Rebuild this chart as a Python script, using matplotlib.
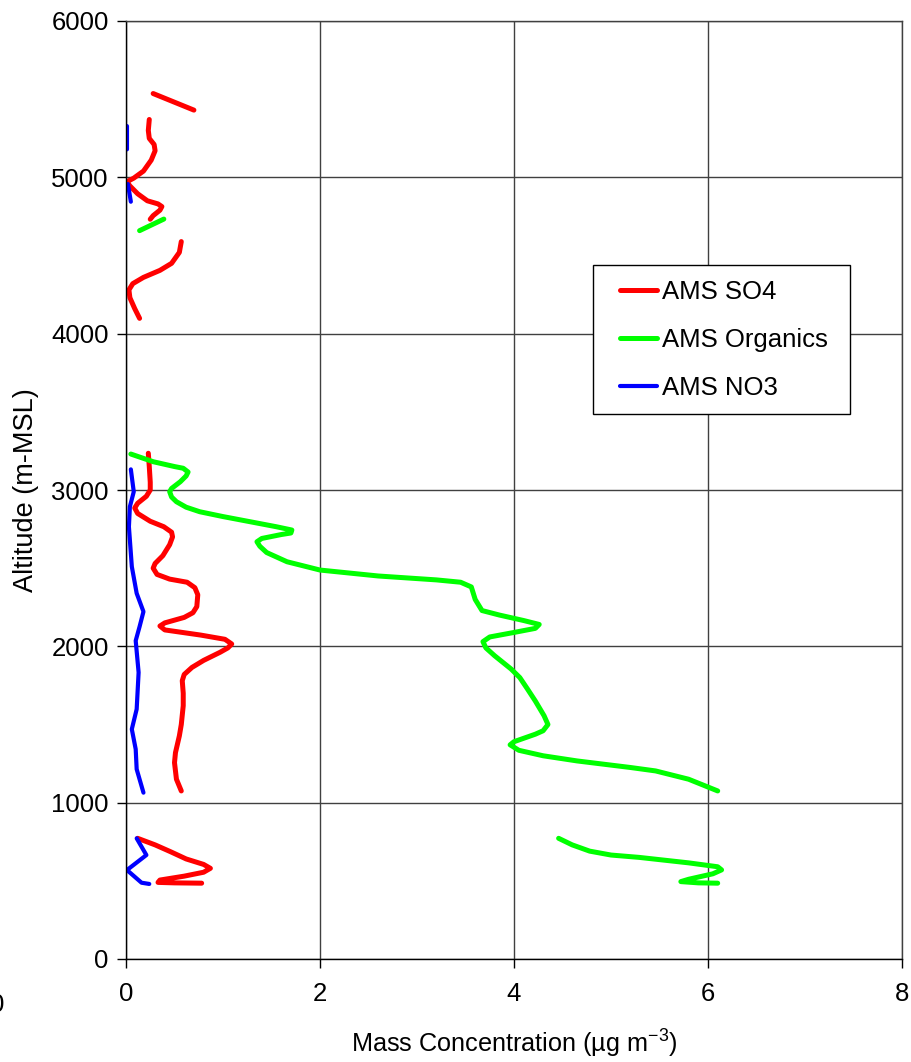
import numpy as np
import matplotlib
matplotlib.use("Agg")
import matplotlib.pyplot as plt
from matplotlib.legend_handler import HandlerLine2D

plt.rcParams['font.family'] = ['Liberation Sans', 'DejaVu Sans']
plt.rcParams['mathtext.fontset'] = 'custom'
plt.rcParams['mathtext.rm'] = 'Liberation Sans'

nan = np.nan
# AMS SO4 (x: ug m-3, alt: m-MSL); NaN separates segments
so4_x = [0.28, 0.70, nan,
         0.24, 0.23, 0.24, 0.29, 0.30, 0.26, 0.18, 0.08, 0.01, 0.04, 0.12, 0.22, 0.33, 0.37, 0.35, 0.28, 0.25, nan,
         0.57, 0.55, 0.47, 0.35, 0.18, 0.07, 0.03, 0.04, 0.09, 0.14, nan,
         0.23, 0.24, 0.25, 0.25, 0.21, 0.12, 0.09, 0.12, 0.25, 0.39, 0.47, 0.48, 0.45, 0.38, 0.30, 0.28,
         0.32, 0.45, 0.63, 0.71, 0.74, 0.73, 0.69, 0.60, 0.40, 0.35, 0.40, 0.77, 1.02, 1.09, 1.05, 0.97,
         0.80, 0.68, 0.60, 0.58, 0.59, 0.59, 0.57, 0.55, 0.51, 0.50, 0.52, 0.57, nan,
         0.12, 0.30, 0.46, 0.62, 0.80, 0.87, 0.80, 0.60, 0.35, 0.33, 0.50, 0.78]
so4_alt = [5536, 5430, nan,
           5370, 5300, 5249, 5210, 5170, 5110, 5040, 4995, 4972, 4945, 4895, 4850, 4830, 4813, 4790, 4755, 4732, nan,
           4589, 4520, 4450, 4405, 4360, 4320, 4280, 4230, 4160, 4098, nan,
           3235, 3150, 3050, 3000, 2960, 2915, 2885, 2850, 2800, 2765, 2730, 2700, 2650, 2580, 2530, 2500,
           2460, 2430, 2410, 2375, 2330, 2254, 2215, 2185, 2150, 2130, 2105, 2072, 2045, 2015, 1990, 1962,
           1910, 1865, 1820, 1780, 1700, 1620, 1500, 1427, 1320, 1256, 1150, 1075, nan,
           772, 730, 686, 640, 605, 580, 555, 530, 505, 490, 487, 485]

# AMS Organics
org_x = [0.14, 0.39, nan,
         0.05, 0.28, 0.50, 0.59, 0.64, 0.62, 0.56, 0.47, 0.45, 0.47, 0.52, 0.62, 0.76, 1.00, 1.28, 1.55,
         1.71, 1.70, 1.60, 1.40, 1.35, 1.38, 1.45, 1.66, 2.00, 2.60, 3.20, 3.45, 3.56, 3.60, 3.67, 3.85,
         4.10, 4.26, 4.22, 4.01, 3.75, 3.68, 3.71, 3.80, 3.97, 4.06, 4.14, 4.22, 4.31, 4.35, 4.30, 4.22,
         4.00, 3.96, 4.05, 4.30, 4.65, 5.20, 5.46, 5.80, 6.10, nan,
         4.46, 4.60, 4.78, 5.00, 5.29, 5.80, 6.10, 6.14, 6.05, 5.80, 5.72, 5.90, 6.10]
org_alt = [4659, 4733, nan,
           3230, 3181, 3150, 3139, 3115, 3090, 3053, 3010, 2989, 2955, 2925, 2890, 2861, 2830, 2797, 2765,
           2744, 2725, 2715, 2690, 2669, 2640, 2600, 2541, 2488, 2450, 2425, 2410, 2380, 2300, 2229, 2200,
           2165, 2140, 2115, 2090, 2060, 2030, 1990, 1940, 1855, 1800, 1726, 1650, 1556, 1500, 1460, 1438,
           1390, 1370, 1335, 1300, 1267, 1225, 1203, 1150, 1075, nan,
           772, 730, 690, 665, 650, 615, 590, 570, 545, 510, 495, 487, 485]

# AMS NO3
no3_x = [0.01, 0.01, nan,
         0.02, 0.05, nan,
         0.05, 0.08, 0.04, 0.03, 0.06, 0.11, 0.18, 0.14, 0.10, 0.13, 0.11, 0.06, 0.10, 0.11, 0.18, nan,
         0.11, 0.21, 0.01, 0.16, 0.24]
no3_alt = [5328, 5179, nan,
           4957, 4844, nan,
           3132, 2989, 2893, 2765, 2510, 2339, 2222, 2126, 2036, 1833, 1598, 1470, 1342, 1214, 1064, nan,
           772, 665, 569, 488, 480]

x_ticks = [0, 2, 4, 6, 8]
y_ticks = [0, 1000, 2000, 3000, 4000, 5000, 6000]


class OffsetLineHandler(HandlerLine2D):
    """Legend line that starts a little to the right inside its handle box."""
    def __init__(self, offset=8.6, **kw):
        super().__init__(**kw)
        self.offset = offset

    def create_artists(self, legend, orig_handle, xdescent, ydescent, width, height, fontsize, trans):
        return super().create_artists(legend, orig_handle, xdescent - self.offset, ydescent,
                                      width - self.offset, height, fontsize, trans)


fig = plt.figure(figsize=(9.12, 10.62), dpi=100)
ax = fig.add_axes([126/912, 1-959/1062, (902-126)/912, (959-21)/1062])

kw = dict(solid_capstyle='round', solid_joinstyle='round')
l1, = ax.plot(so4_x, so4_alt, color='#FF0000', lw=3.6, label='AMS SO4', **kw)
l2, = ax.plot(org_x, org_alt, color='#00FF00', lw=3.6, label='AMS Organics ', **kw)
l3, = ax.plot(no3_x, no3_alt, color='#0000FF', lw=3.0, label='AMS NO3', **kw)

ax.set_xlim(0, 8)
ax.set_ylim(0, 6000)
ax.set_xticks(x_ticks)
ax.set_yticks(y_ticks)
ax.grid(True, color='#404040', lw=1.0)
ax.set_axisbelow(True)
for side in ['top', 'right']:
    ax.spines[side].set_color('#404040')
    ax.spines[side].set_linewidth(1.0)
for side in ['left', 'bottom']:
    ax.spines[side].set_color('black')
    ax.spines[side].set_linewidth(1.0)
ax.tick_params(axis='both', direction='out', length=6.5, width=1.0, labelsize=18.5)
ax.tick_params(axis='x', pad=10)
ax.tick_params(axis='y', pad=6)

ax.set_xlabel('Mass Concentration (\u00b5g m$^{\\mathrm{-3}}$)', fontsize=18.2, labelpad=16)
ax.set_ylabel('Altitude (m-MSL)', fontsize=19.5, labelpad=9)

h = OffsetLineHandler(offset=8.6)
leg = ax.legend(handles=[l1, l2, l3],
                loc='upper left', bbox_to_anchor=((593-126)/776, (959-265)/938),
                fontsize=18.5, frameon=True, fancybox=False, framealpha=1,
                edgecolor='black', handlelength=1.91, handletextpad=0.2,
                labelspacing=0.93, borderpad=0.575, borderaxespad=0,
                handler_map={l1: h, l2: h, l3: h})
leg.get_frame().set_linewidth(1.0)

fig.text(4.5/912, 1-1005/1062, '0', fontsize=18.5, ha='right', va='center')

fig.savefig('out.png', dpi=100)
